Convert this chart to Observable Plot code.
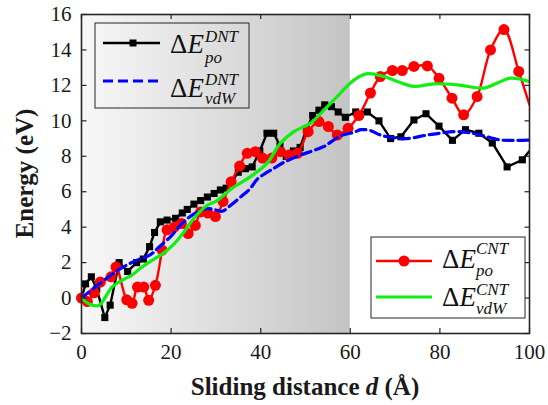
<!DOCTYPE html>
<html><head><meta charset="utf-8">
<script src="https://cdn.jsdelivr.net/npm/d3@7"></script>
<script src="https://cdn.jsdelivr.net/npm/@observablehq/plot@0.6"></script>
<style>
body{margin:0;background:#fff;}
#wrap{position:relative;width:548px;height:405px;}
#wrap svg{position:absolute;left:0;top:0;}
</style></head><body><div id="wrap"></div>
<script>
const xTicks = [0, 20, 40, 60, 80, 100];
const yTicks = [-2, 0, 2, 4, 6, 8, 10, 12, 14, 16];
const shadeRange = [0, 60];

// ΔE_po^DNT (black squares)
const dntPoX = [0, 0.9, 2.2, 3.4, 5.2, 6.4, 8.4, 10.3, 12.3, 13.8, 15.2, 16.3, 17.6, 19.1, 21.0, 22.5, 23.6, 25.1, 26.6, 28.1, 29.6, 31.0, 32.3, 33.6, 35.0, 36.6, 38.1, 39.8, 41.4, 42.9, 44.3, 45.7, 47.3, 48.8, 50.2, 51.6, 53.0, 54.3, 55.8, 57.3, 58.9, 61.2, 63.8, 66.4, 69.0, 71.3, 74.2, 76.9, 79.8, 82.8, 85.7, 88.7, 91.7, 95.0, 98.4, 100];
const dntPoY = [0, 0.8, 1.2, 0.5, -1.1, -0.4, 2.0, 1.5, 2.0, 2.2, 2.9, 3.7, 4.3, 4.4, 4.5, 4.8, 5.0, 5.3, 5.5, 5.7, 5.9, 6.1, 6.2, 6.6, 7.1, 7.3, 7.4, 8.3, 9.3, 9.3, 8.6, 8.0, 8.3, 8.5, 9.5, 10.3, 10.6, 10.9, 10.8, 10.5, 10.2, 10.5, 10.5, 10.0, 9.0, 9.1, 10.05, 10.4, 9.7, 8.9, 9.5, 9.3, 8.75, 7.4, 7.8, 8.3];

// ΔE_po^CNT (red circles)
const cntPoX = [0, 1.3, 2.8, 4.2, 6.6, 7.7, 10.1, 11.3, 12.5, 13.9, 15.0, 16.5, 18.0, 19.1, 20.7, 22.3, 23.8, 25.4, 26.6, 28.2, 29.9, 31.6, 33.4, 35.3, 37.0, 38.8, 40.4, 42.5, 44.4, 46.3, 48.2, 50.6, 53.0, 55.1, 57.1, 59.5, 61.9, 64.5, 66.7, 69.4, 71.6, 74.2, 77.2, 79.8, 82.7, 85.3, 88.3, 91.3, 94.3, 97.6, 100];
const cntPoY = [0, -0.2, 0.3, 0.9, 1.2, 1.75, -0.1, -0.3, 0.62, 0.62, -0.13, 0.72, 2.7, 3.85, 4.0, 4.2, 3.64, 4.1, 4.86, 4.8, 4.6, 5.45, 6.56, 7.45, 8.17, 8.26, 7.9, 7.9, 8.26, 8.07, 8.17, 9.39, 9.96, 9.68, 9.2, 9.58, 10.3, 11.57, 12.5, 12.84, 12.84, 13.07, 13.1, 12.4, 11.28, 10.34, 11.37, 14.0, 15.15, 12.79, 10.9];

// ΔE_vdW^DNT (blue dashed)
const dntVdwX = [0, 4, 8.3, 12, 15.4, 17.2, 20, 22.8, 25.5, 27.7, 29.5, 31.4, 33.3, 35.5, 37.7, 39.2, 42.9, 45.5, 48.9, 51.5, 54.1, 57.8, 60.8, 62.3, 64.5, 66.7, 69.5, 72.7, 77.2, 80, 83.1, 86, 89.1, 93.5, 97, 100];
const dntVdwY = [0, 0.8, 1.6, 2.1, 2.45, 2.85, 3.5, 4.3, 4.8, 5.05, 5.0, 4.9, 5.24, 5.7, 6.19, 6.7, 7.32, 7.7, 8.07, 8.3, 8.55, 9.15, 9.35, 9.5, 9.45, 9.2, 9.05, 9.0, 9.2, 9.3, 9.39, 9.35, 9.2, 8.92, 8.9, 8.92];

// ΔE_vdW^CNT (green)
const cntVdwX = [0, 1.6, 3.8, 4.9, 6.8, 9.75, 11.2, 13.5, 16.4, 18.4, 20.4, 22.8, 25.1, 28.1, 30.0, 31.8, 33.6, 35.5, 37.7, 41.4, 44.4, 47.4, 51.1, 54.1, 57.8, 60.8, 63.8, 67.5, 70.5, 74.2, 78.6, 83.9, 89.8, 92.8, 95.8, 100];
const cntVdwY = [0, -0.32, -0.42, -0.13, 0.62, 1.1, 1.28, 1.75, 2.23, 2.55, 2.98, 3.7, 4.5, 5.24, 5.45, 5.81, 6.19, 6.5, 6.85, 7.6, 8.74, 9.39, 9.87, 10.6, 11.57, 12.3, 12.66, 12.5, 12.22, 11.94, 12.09, 12.03, 11.85, 12.13, 12.41, 12.22];

const pts = (xs, ys) => xs.map((x, i) => ({x, y: ys[i]}));
const dntPo = pts(dntPoX, dntPoY);
const cntPo = pts(cntPoX, cntPoY);
const dntVdw = pts(dntVdwX, dntVdwY);
const cntVdw = pts(cntVdwX, cntVdwY);

const W = 548, H = 405, mL = 81, mR = 19, mT = 14, mB = 72;
const fw = W - mL - mR, fh = H - mT - mB, tk = 5;
const xDom = [0, 100];
const tkX = (xDom[1] - xDom[0]) * tk / fw; // tick length expressed in x units
const font = "Liberation Serif, Times New Roman, DejaVu Serif, serif";
const tickStyle = {stroke: "#262626", strokeWidth: 1.2};

const chart = Plot.plot({
  width: W, height: H,
  marginLeft: mL, marginRight: mR, marginTop: mT, marginBottom: mB,
  x: {domain: xDom, axis: null},
  y: {domain: [-2, 16], axis: null},
  style: {fontFamily: font, color: "#1a1a1a", background: "transparent", overflow: "visible"},
  marks: [
    Plot.rect([shadeRange], {x1: d => d[0], x2: d => d[1], fill: "url(#shadeGrad)"}),
    Plot.line(dntPo, {x: "x", y: "y", stroke: "black", strokeWidth: 2.4, clip: true}),
    Plot.dot(dntPo.filter(d => d.x < 100), {x: "x", y: "y", symbol: "square", r: 4, fill: "black", stroke: "none"}),
    Plot.line(cntPo, {x: "x", y: "y", stroke: "#ff0000", strokeWidth: 2.4, curve: "catmull-rom", clip: true}),
    Plot.dot(cntPo.filter(d => d.x < 100), {x: "x", y: "y", r: 5.5, fill: "#ff0000", stroke: "none"}),
    Plot.line(dntVdw, {x: "x", y: "y", stroke: "#0000ff", strokeWidth: 3.2, strokeDasharray: "10,5", curve: "catmull-rom", clip: true}),
    Plot.line(cntVdw, {x: "x", y: "y", stroke: "#11ee11", strokeWidth: 3.2, curve: "catmull-rom", clip: true}),
    Plot.axisX({ticks: xTicks, anchor: "bottom", tickSize: 0, tickPadding: 11, fontSize: 21, label: null}),
    Plot.axisY({ticks: yTicks, anchor: "left", tickSize: 0, tickPadding: 10, fontSize: 21, label: null}),
    // inward tick marks on all four sides
    Plot.ruleX(xTicks, {x: d => d, insetTop: fh - tk, ...tickStyle}),
    Plot.ruleX(xTicks, {x: d => d, insetBottom: fh - tk, ...tickStyle}),
    Plot.link(yTicks, {x1: xDom[0], x2: xDom[0] + tkX, y1: d => d, y2: d => d, ...tickStyle}),
    Plot.link(yTicks, {x1: xDom[1] - tkX, x2: xDom[1], y1: d => d, y2: d => d, ...tickStyle}),
    Plot.frame({stroke: "#262626", strokeWidth: 1.6})
  ]
});

const defs = d3.select(chart).insert("defs", ":first-child");
const g = defs.append("linearGradient").attr("id", "shadeGrad").attr("x1", "0").attr("x2", "1").attr("y1", "0").attr("y2", "0");
g.append("stop").attr("offset", "0%").attr("stop-color", "#f8f8f8");
g.append("stop").attr("offset", "100%").attr("stop-color", "#c4c4c4");

const wrap = document.getElementById("wrap");
wrap.appendChild(chart);

const ov = document.createElementNS("http://www.w3.org/2000/svg", "svg");
ov.setAttribute("width", W); ov.setAttribute("height", H);
ov.setAttribute("font-family", font);
ov.innerHTML = `
<text transform="translate(33,173.5) rotate(-90)" text-anchor="middle" font-weight="bold" font-size="25" fill="#1a1a1a">Energy (eV)</text>
<text x="305" y="395" text-anchor="middle" font-weight="bold" font-size="25" fill="#1a1a1a">Sliding distance <tspan font-style="italic">d</tspan> (Å)</text>
<rect x="95" y="23" width="154" height="85" fill="none" stroke="#262626" stroke-width="1"/>
<line x1="103" y1="43" x2="160" y2="43" stroke="black" stroke-width="2.4"/>
<rect x="129.5" y="39.5" width="7" height="7" fill="black"/>
<text x="170" y="53" font-size="27" fill="#111">Δ<tspan font-style="italic">E</tspan></text>
<text x="205" y="42" font-size="17" font-style="italic" fill="#111">DNT</text>
<text x="205" y="63" font-size="17" font-style="italic" fill="#111">po</text>
<line x1="103" y1="81" x2="158" y2="81" stroke="#0000ff" stroke-width="3.2" stroke-dasharray="10,5"/>
<text x="170" y="97" font-size="27" fill="#111">Δ<tspan font-style="italic">E</tspan></text>
<text x="205" y="85" font-size="17" font-style="italic" fill="#111">DNT</text>
<text x="205" y="104" font-size="17" font-style="italic" fill="#111">vdW</text>
<rect x="371" y="237" width="154" height="81" fill="#fff" stroke="#262626" stroke-width="1"/>
<line x1="376" y1="261" x2="432" y2="261" stroke="#ff0000" stroke-width="2.4"/>
<circle cx="404" cy="261" r="5.5" fill="#ff0000"/>
<text x="442" y="268" font-size="27" fill="#111">Δ<tspan font-style="italic">E</tspan></text>
<text x="476" y="254" font-size="17" font-style="italic" fill="#111">CNT</text>
<text x="476" y="276" font-size="17" font-style="italic" fill="#111">po</text>
<line x1="376" y1="297" x2="432" y2="297" stroke="#11ee11" stroke-width="3.2"/>
<text x="442" y="306" font-size="27" fill="#111">Δ<tspan font-style="italic">E</tspan></text>
<text x="476" y="295" font-size="17" font-style="italic" fill="#111">CNT</text>
<text x="476" y="314" font-size="17" font-style="italic" fill="#111">vdW</text>
`;
wrap.appendChild(ov);
</script></body></html>
